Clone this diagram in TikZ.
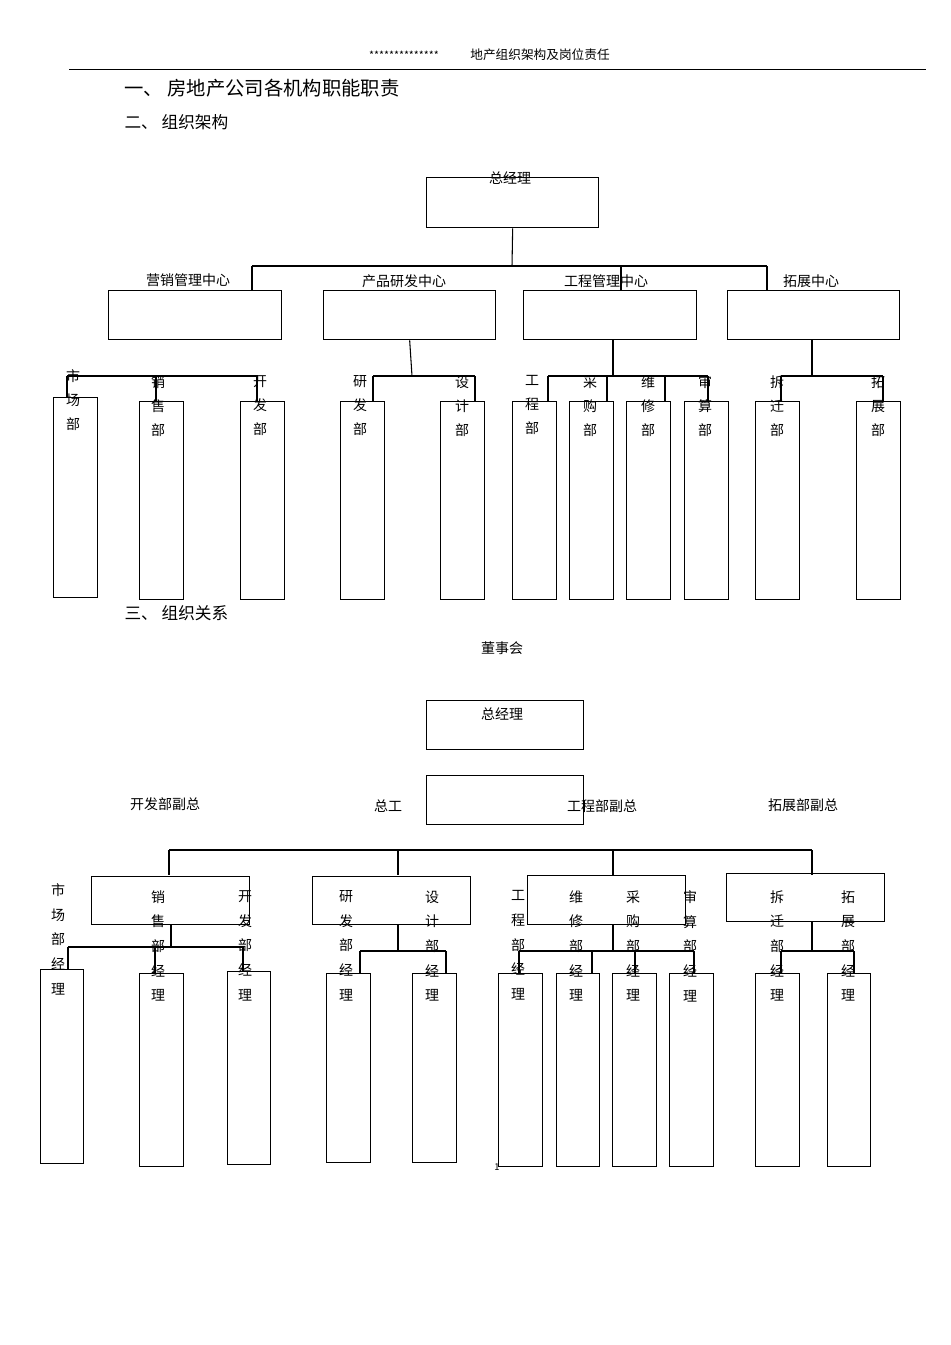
\documentclass[tikz,border=0pt]{standalone}
\usepackage{fontspec}
\setmainfont{Noto Sans CJK SC}
\begin{document}
\begin{tikzpicture}[x=0.75pt,y=-0.75pt,line width=0.8pt,
  bxs/.style={draw,inner sep=0pt,line width=1pt},
  tx/.style={font=\fontsize{10.5}{12}\selectfont,inner sep=0pt},
  vt/.style={font=\fontsize{10.5}{18}\selectfont,inner sep=0pt,anchor=north,align=center},
  vt2/.style={font=\fontsize{10.5}{18.5}\selectfont,inner sep=0pt,anchor=north,align=center},
  hd/.style={font=\fontsize{12.5}{14}\selectfont,inner sep=0pt,anchor=west}]
\newcommand\bx[5]{\node[bxs,minimum width={(#4-#2)*0.75pt},minimum height={(#5-#3)*0.75pt},anchor=north west] (#1) at (#2,#3) {};}
\useasboundingbox (0,0) rectangle (950,1345);
% header
\node[tx,font=\fontsize{8}{9}\selectfont] (stars) at (404,55) {**************};
\node[tx,font=\fontsize{9.5}{10}\selectfont] (htitle) at (540,55) {地产组织架构及岗位责任};
\draw[line width=0.6pt] (69,69) coordinate (hl) -- (926,69) coordinate (hr);
\node[hd,font=\fontsize{14.5}{16}\selectfont] (h1) at (124,88) {一、 房地产公司各机构职能职责};
\node[hd] (h2) at (124,122) {二、 组织架构};
\node[hd] (h3) at (124,613) {三、 组织关系};
% ===== section 2 =====
\bx{gm}{426}{177}{598}{227}
\node[tx] (gmt) at (510,178) {总经理};
\bx{c1}{108}{290}{281}{339}
\bx{c2}{323}{290}{495}{339}
\bx{c3}{523}{290}{696}{339}
\bx{c4}{727}{290}{899}{339}
\node[tx] (c1t) at (188,280) {营销管理中心};
\node[tx] (c2t) at (404,281) {产品研发中心};
\node[tx] (c3t) at (606,281) {工程管理中心};
\node[tx] (c4t) at (811,281) {拓展中心};
\draw (gm.south) -- (512,266) coordinate (bus1);
\draw (252,266) -- (767,266);
\draw (252,266) -- (252,290);
\draw (767,266) -- (767,290);
\draw (621,266) -- (621,290);
% departments
\bx{d1}{53}{397}{97}{597}
\bx{d2}{139}{401}{183}{599}
\bx{d3}{240}{401}{284}{599}
\bx{d4}{340}{401}{384}{599}
\bx{d5}{440}{401}{484}{599}
\bx{d6}{512}{401}{556}{599}
\bx{d7}{569}{401}{613}{599}
\bx{d8}{626}{401}{670}{599}
\bx{d9}{684}{401}{728}{599}
\bx{d10}{755}{401}{799}{599}
\bx{d11}{856}{401}{900}{599}
\draw (67,376) -- (258,376);
\draw (67,376) -- (67,397);
\draw (156,376) -- (156,401);
\draw (257,376) -- (257,401);
\draw (c2.south) -- (412,376);
\draw (373,376) -- (475,376);
\draw (373,376) -- (373,401);
\draw (475,376) -- (475,401);
\draw (c3.south -| 613,0) -- (613,376);
\draw (548,376) -- (708,376);
\foreach \x in {548,607,665,708} \draw (\x,376) -- (\x,401);
\draw (c4.south -| 812,0) -- (812,376);
\draw (781,376) -- (883,376);
\draw (781,376) -- (781,401);
\draw (883,376) -- (883,401);
\node[vt] (l1) at (73,369) {市\\场\\部};
\node[vt] (l2) at (158,375) {销\\售\\部};
\node[vt] (l3) at (260,375) {开\\发\\部};
\node[vt] (l4) at (360,375) {研\\发\\部};
\node[vt] (l5) at (462,375) {设\\计\\部};
\node[vt] (l6) at (532,375) {工\\程\\部};
\node[vt] (l7) at (590,375) {采\\购\\部};
\node[vt] (l8) at (648,375) {维\\修\\部};
\node[vt] (l9) at (705,375) {审\\算\\部};
\node[vt] (l10) at (777,375) {拆\\迁\\部};
\node[vt] (l11) at (878,375) {拓\\展\\部};
% ===== section 3 =====
\node[tx] (board) at (502,648) {董事会};
\bx{g2}{426}{700}{583}{749}
\node[tx] (g2t) at (502,714) {总经理};
\bx{zg}{426}{775}{583}{824}
\node[tx] (v1) at (165,804) {开发部副总};
\node[tx] (v2) at (388,806) {总工};
\node[tx] (v3) at (602,806) {工程部副总};
\node[tx] (v4) at (803,805) {拓展部副总};
\draw (169,850) -- (812,850);
\foreach \x in {169,398,613,812} \draw (\x,850) -- (\x,875);
\bx{e1}{91}{876}{249}{924}
\bx{e2}{312}{876}{470}{924}
\bx{e3}{527}{875}{685}{924}
\bx{e4}{726}{873}{884}{921}
\draw (171,924) -- (171,947);
\draw (68,947) -- (244,947);
\draw (68,947) -- (68,969);
\draw (155,947) -- (155,973);
\draw (243,947) -- (243,971);
\draw (398,924) -- (398,951);
\draw (360,951) -- (446,951);
\draw (360,951) -- (360,973);
\draw (446,951) -- (446,973);
\draw (613,924) -- (613,951);
\draw (519,951) -- (694,951);
\foreach \x in {519,592,635,694} \draw (\x,951) -- (\x,973);
\draw (812,921) -- (812,951);
\draw (781,951) -- (854,951);
\draw (781,951) -- (781,973);
\draw (854,951) -- (854,973);
\bx{m1}{40}{969}{83}{1163}
\bx{m2}{139}{973}{183}{1166}
\bx{m3}{227}{971}{270}{1164}
\bx{m4}{326}{973}{370}{1162}
\bx{m5}{412}{973}{456}{1162}
\bx{m6}{498}{973}{542}{1166}
\bx{m7}{556}{973}{599}{1166}
\bx{m8}{612}{973}{656}{1166}
\bx{m9}{669}{973}{713}{1166}
\bx{m10}{755}{973}{799}{1166}
\bx{m11}{827}{973}{870}{1166}
\node[vt2] (n1) at (58,883) {市\\场\\部\\经\\理};
\node[vt2] (n2) at (158,890) {销\\售\\部\\经\\理};
\node[vt2] (n3) at (245,890) {开\\发\\部\\经\\理};
\node[vt2] (n4) at (346,890) {研\\发\\部\\经\\理};
\node[vt2] (n5) at (432,890) {设\\计\\部\\经\\理};
\node[vt2] (n6) at (518,890) {工\\程\\部\\经\\理};
\node[vt2] (n7) at (576,890) {维\\修\\部\\经\\理};
\node[vt2] (n8) at (633,890) {采\\购\\部\\经\\理};
\node[vt2] (n9) at (690,890) {审\\算\\部\\经\\理};
\node[vt2] (n10) at (777,890) {拆\\迁\\部\\经\\理};
\node[vt2] (n11) at (848,890) {拓\\展\\部\\经\\理};
\node[tx,font=\fontsize{7}{8}\selectfont] (pg) at (497,1167) {1};
\end{tikzpicture}
\end{document}
